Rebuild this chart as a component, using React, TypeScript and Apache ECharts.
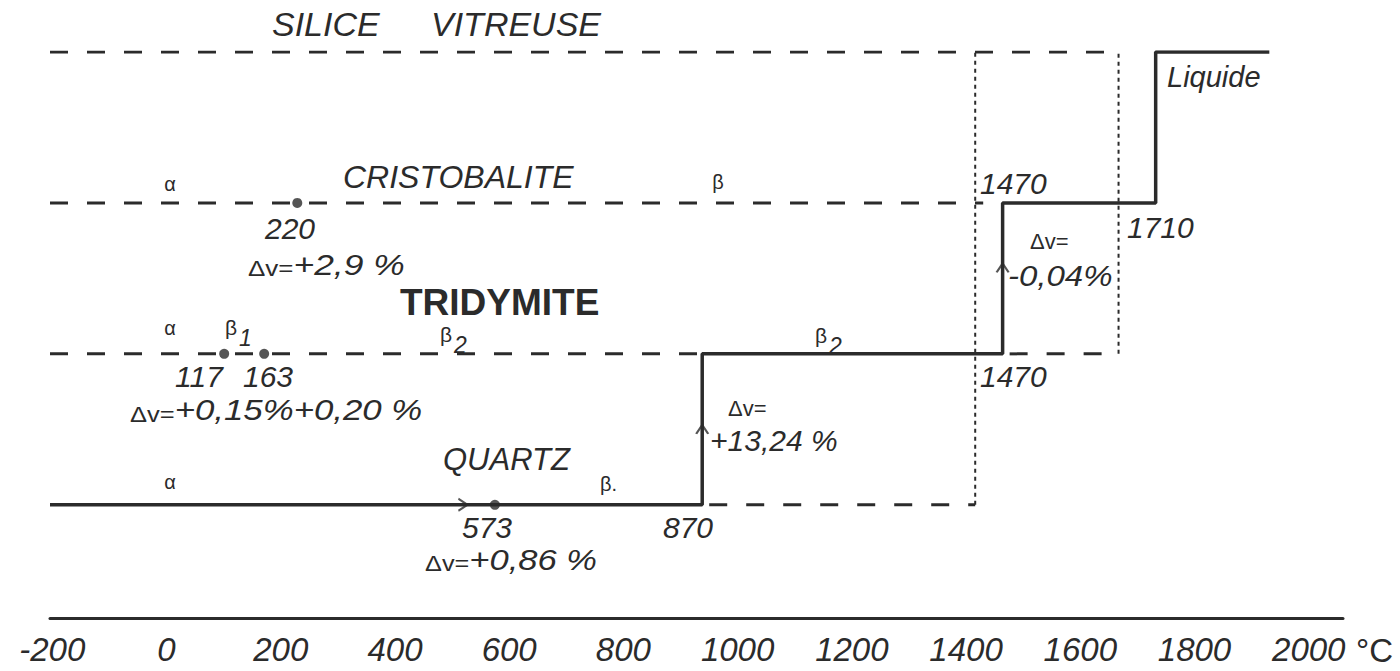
import React, { useEffect, useRef } from 'react';
import * as echarts from 'echarts';

// Temperature tick labels (°C)
const xTicks = [-200, 0, 200, 400, 600, 800, 1000, 1200, 1400, 1600, 1800, 2000];
// Phase levels (y index)
const phases = ['QUARTZ', 'TRIDYMITE', 'CRISTOBALITE', 'SILICE VITREUSE'];
// Stable path (x, y = phase level)
const stablePath = [[-204, 0], [938, 0], [938, 1], [1464, 1], [1464, 2], [1732, 2], [1732, 3], [1931, 3]];
// Metastable (dashed) segments that start from the left edge
const dashedFromLeft = [
  [[-204, 1], [938, 1]],
  [[-204, 2], [1430, 2]],
  [[-204, 3], [1667, 3]],
];
// Metastable (dashed) segments that start at a transition step
const dashedFromStep = [
  [[938, 0], [1416, 0]],
  [[1464, 1], [1667, 1]],
];
// Dotted vertical guides
const dottedSegments = [
  [[1416, 0], [1416, 3]],
  [[1667, 1], [1667, 3]],
];
// Transition points (dots)
const transitionDots = [[575, 0], [101, 1], [171, 1], [229, 2]];
// Direction arrows
const arrowsRight = [[519, 0]];
const arrowsUp = [[938, 0.5], [1464, 1.57]];

const FF = '"Liberation Sans", Arial, sans-serif';
const INK = '#2b2b2b';

function T(text: string, x: number, y: number, size: number, opts: any = {}) {
  const style = opts.italic === false ? 'normal' : 'italic';
  const weight = opts.bold ? 'bold' : 'normal';
  const align = opts.align || 'left';
  return {
    type: 'text',
    x,
    y,
    scaleX: opts.sx || 1,
    silent: true,
    style: {
      text,
      font: `${style} ${weight} ${size}px ${FF}`,
      fill: INK,
      textAlign: align,
      align,
      textVerticalAlign: 'middle',
      verticalAlign: 'middle',
    },
  };
}

function DV(rest: string, x: number, y: number, sx = 1) {
  return {
    type: 'text',
    x,
    y,
    scaleX: sx,
    silent: true,
    style: {
      text: `{a|Δv=}{b|${rest}}`,
      textAlign: 'left',
      align: 'left',
      textVerticalAlign: 'middle',
      verticalAlign: 'middle',
      rich: {
        a: { fontSize: 22, fontFamily: FF, fill: INK, verticalAlign: 'bottom' },
        b: { fontSize: 30, fontStyle: 'italic', fontFamily: FF, fill: INK },
      },
    },
  };
}

function BetaSub(sub: string, x: number, y: number) {
  return {
    type: 'text',
    x,
    y,
    silent: true,
    style: {
      text: `{g|β}{s|${sub}}`,
      textAlign: 'left',
      align: 'left',
      textVerticalAlign: 'top',
      verticalAlign: 'top',
      rich: {
        g: { fontSize: 21, fontFamily: FF, fill: INK, lineHeight: 20, verticalAlign: 'top' },
        s: { fontSize: 23, fontStyle: 'italic', fontFamily: FF, fill: INK, lineHeight: 32, verticalAlign: 'bottom', padding: [0, 0, 0, 2] },
      },
    },
  };
}

function lineSeries(data: number[][], type: any, width: number, dashOffset = 0) {
  return {
    type: 'line',
    data,
    showSymbol: false,
    silent: true,
    animation: false,
    lineStyle: { color: INK, width, type, dashOffset, cap: 'butt' },
    z: 2,
  };
}

export default function App() {
  const ref = useRef<HTMLDivElement>(null);
  useEffect(() => {
    const chart = echarts.init(ref.current!, null, { renderer: 'svg' });
    const series: any[] = [];
    series.push({ ...lineSeries(stablePath, 'solid', 3.5), name: phases.join(' / '), z: 3 });
    dashedFromLeft.forEach((s) => series.push(lineSeries(s, [18, 19], 3)));
    dashedFromStep.forEach((s) => series.push(lineSeries(s, [18, 19], 3, 30)));
    dottedSegments.forEach((s) => series.push(lineSeries(s, [4, 4], 2)));
    series.push({
      type: 'scatter',
      data: transitionDots,
      symbolSize: 10,
      itemStyle: { color: INK },
      silent: true,
      z: 5,
    });
    series.push({
      type: 'scatter',
      data: [
        ...arrowsRight.map((p) => ({ value: p, symbolRotate: 0 })),
        ...arrowsUp.map((p) => ({ value: p, symbolRotate: 90 })),
      ],
      symbol: 'path://M0,0L8,6L0,12',
      symbolSize: [9, 12],
      itemStyle: { color: 'none', borderColor: INK, borderWidth: 2 },
      silent: true,
      z: 6,
    });

    const graphic: any[] = [
      T('SILICE', 272, 24, 34),
      T('VITREUSE', 431, 24, 34),
      T('Liquide', 1167, 77, 29),
      T('α', 170, 184, 20, { italic: false, align: 'center' }),
      T('CRISTOBALITE', 343, 177, 32),
      T('β', 718, 182, 20, { italic: false, align: 'center' }),
      T('1470', 980, 183, 30),
      T('220', 265, 228, 30),
      DV('+2,9 %', 248, 264, 1.18),
      T('1710', 1127, 227, 30),
      T('Δv=', 1030, 241, 22, { italic: false }),
      T('-0,04%', 1008, 276, 30, { sx: 1.1 }),
      T('TRIDYMITE', 400, 302, 37, { italic: false, bold: true }),
      T('α', 170, 328, 20, { italic: false, align: 'center' }),
      BetaSub('1', 225, 317),
      BetaSub('2', 440, 324),
      BetaSub('2', 815, 325),
      T('117', 175, 376, 30),
      T('163', 243, 376, 30),
      DV('+0,15%+0,20 %', 130, 410, 1.16),
      T('1470', 980, 376, 30),
      T('Δv=', 728, 408, 22, { italic: false }),
      T('+13,24 %', 710, 440, 30),
      T('QUARTZ', 443, 459, 31),
      T('α', 170, 482, 20, { italic: false, align: 'center' }),
      T('β.', 600, 484, 20, { italic: false }),
      T('573', 462, 527, 30),
      T('870', 663, 527, 30),
      DV('+0,86 %', 425, 560, 1.15),
      T('°C', 1356, 650, 33, { italic: false }),
    ];

    chart.setOption({
      animation: false,
      backgroundColor: '#ffffff',
      grid: { left: 50, right: 57, top: 52, bottom: 53, containLabel: false },
      xAxis: {
        type: 'value',
        min: -204,
        max: 2060,
        axisLine: { show: true, onZero: false, lineStyle: { color: INK, width: 3 } },
        axisTick: { show: false },
        splitLine: { show: false },
        axisLabel: {
          customValues: xTicks,
          margin: 15,
          fontSize: 33,
          fontStyle: 'italic',
          fontFamily: FF,
          color: INK,
          formatter: (v: number) => String(v),
        },
      },
      yAxis: {
        type: 'value',
        min: -0.75,
        max: 3,
        show: false,
        splitLine: { show: false },
      },
      series,
      graphic,
    });
    return () => chart.dispose();
  }, []);
  return (
    <div
      ref={ref}
      style={{ position: 'absolute', left: 0, top: 0, width: 1400, height: 671, background: '#fff' }}
    />
  );
}
